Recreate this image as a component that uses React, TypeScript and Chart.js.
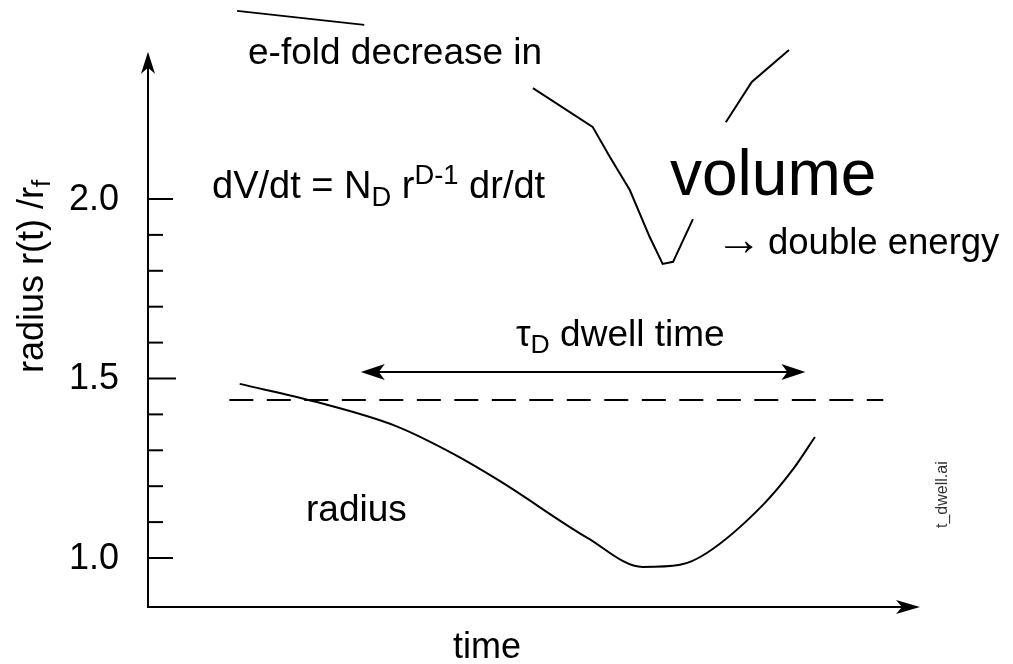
import React, { useEffect, useRef } from "react";
import { Chart, registerables } from "chart.js";

Chart.register(...registerables);

// ---- data (time in arbitrary units, radius/volume normalised by r_f) ----
const TIME_RADIUS = [10.6, 19.4, 28.6, 35.3, 40.7, 50.8, 57.2, 61.5, 64.6, 71.1, 74.6, 77.1];
const RADIUS = [1.485, 1.435, 1.368, 1.29, 1.214, 1.056, 0.975, 0.981, 1.014, 1.148, 1.248, 1.337];

const TIME_VOLUME = [10.3, 25.0, 35.0, 44.5, 51.4, 53.4, 55.7, 58.0, 59.5, 60.7, 63.0, 65.0, 66.8, 69.8, 74.1];
const VOLUME = [2.524, 2.485, null, 2.309, 2.201, 2.117, 2.025, 1.894, 1.819, 1.825, 1.944, null, 2.214, 2.326, 2.415];

const THRESHOLD_TIME = [9.4, 85.0];
const THRESHOLD_LEVEL = [1.44, 1.44];

const DWELL_TIME = [24.6, 76.0];
const DWELL_LEVEL = 1.518;

const Y_TICKS = [1.0, 1.1, 1.2, 1.3, 1.4, 1.5, 1.6, 1.7, 1.8, 1.9, 2.0];
const Y_TICK_LABELS = ["1.0", "", "", "", "", "1.5", "", "", "", "", "2.0"];

const X_RANGE = [0, 100];
const Y_RANGE = [0.8635, 2.5543];
const X_AXIS_END = 89.25;
const Y_AXIS_END = 2.41;

const FONT = "'Liberation Sans', Arial, Helvetica, sans-serif";
const INK = "#000";

type Seg = { t: string; sub?: boolean; sup?: boolean; font?: string; scale?: number };

function drawRich(ctx: CanvasRenderingContext2D, x: number, y: number, segs: Seg[], size: number) {
  let cx = x;
  for (const s of segs) {
    const sz = (s.sub || s.sup ? size * 0.72 : size) * (s.scale || 1);
    ctx.font = `${sz}px ${s.font || FONT}`;
    const dy = s.sub ? size * 0.2 : s.sup ? -size * 0.36 : 0;
    ctx.fillText(s.t, cx, y + dy);
    cx += ctx.measureText(s.t).width;
  }
}

function arrowHead(ctx: CanvasRenderingContext2D, tx: number, ty: number, dx: number, dy: number, len = 22, half = 7, notch = 6) {
  const px = -dy, py = dx;
  ctx.beginPath();
  ctx.moveTo(tx, ty);
  ctx.lineTo(tx - dx * len + px * half, ty - dy * len + py * half);
  ctx.lineTo(tx - dx * (len - notch), ty - dy * (len - notch));
  ctx.lineTo(tx - dx * len - px * half, ty - dy * len - py * half);
  ctx.closePath();
  ctx.fill();
}

const decorPlugin = {
  id: "decor",
  afterDatasetsDraw(chart: any) {
    const ctx: CanvasRenderingContext2D = chart.ctx;
    const xs = chart.scales.x;
    const ys = chart.scales.y;
    const x0 = xs.getPixelForValue(X_RANGE[0]);
    const y0 = ys.getPixelForValue(Y_RANGE[0]);
    ctx.save();
    ctx.strokeStyle = INK;
    ctx.fillStyle = INK;
    ctx.lineWidth = 2;
    ctx.lineCap = "butt";

    // axes
    const xTip = xs.getPixelForValue(X_AXIS_END);
    const yTip = ys.getPixelForValue(Y_AXIS_END);
    ctx.beginPath();
    ctx.moveTo(x0, y0);
    ctx.lineTo(xTip - 10, y0);
    ctx.moveTo(x0, y0 + 1);
    ctx.lineTo(x0, yTip + 10);
    ctx.stroke();
    arrowHead(ctx, xTip, y0, 1, 0, 24, 7, 6);
    arrowHead(ctx, x0, yTip, 0, -1, 22, 7, 6);

    // y ticks
    Y_TICKS.forEach((v, i) => {
      const py = ys.getPixelForValue(v);
      const lab = Y_TICK_LABELS[i];
      const len = lab ? (lab === "1.5" ? 28 : 25) : 15;
      ctx.beginPath();
      ctx.moveTo(x0, py);
      ctx.lineTo(x0 + len, py);
      ctx.stroke();
      if (lab) {
        ctx.font = `36px ${FONT}`;
        ctx.textAlign = "right";
        ctx.textBaseline = "middle";
        ctx.fillText(lab, x0 - 29, py + 1);
      }
    });

    // dwell-time double arrow
    const dl = xs.getPixelForValue(DWELL_TIME[0]);
    const dr = xs.getPixelForValue(DWELL_TIME[1]);
    const dy = ys.getPixelForValue(DWELL_LEVEL);
    ctx.beginPath();
    ctx.moveTo(dl + 10, dy);
    ctx.lineTo(dr - 10, dy);
    ctx.stroke();
    arrowHead(ctx, dl, dy, -1, 0, 24, 8, 6);
    arrowHead(ctx, dr, dy, 1, 0, 24, 8, 6);

    // texts
    ctx.textAlign = "left";
    ctx.textBaseline = "alphabetic";
    ctx.fillStyle = INK;
    drawRich(ctx, 248, 64, [{ t: "e-fold decrease in" }], 37);
    drawRich(ctx, 212, 198, [
      { t: "dV/dt = N" }, { t: "D", sub: true }, { t: " r" }, { t: "D-1", sup: true }, { t: " dr/dt" },
    ], 38);
    drawRich(ctx, 670, 195, [{ t: "volume" }], 64);
    drawRich(ctx, 716, 255, [{ t: "\u2192" }], 46);
    drawRich(ctx, 768, 254, [{ t: "double energy" }], 36.5);
    drawRich(ctx, 516, 346, [{ t: "\u03c4" }, { t: "D", sub: true }, { t: " dwell time" }], 37);
    drawRich(ctx, 306, 521, [{ t: "radius" }], 37);
    ctx.font = `36px ${FONT}`;
    ctx.textAlign = "center";
    ctx.fillText("time", 487, 658);

    // rotated y label
    ctx.save();
    ctx.translate(43, 373);
    ctx.rotate(-Math.PI / 2);
    ctx.textAlign = "left";
    drawRich(ctx, 0, 0, [{ t: "radius r(t) /r" }, { t: "f", sub: true }], 36);
    ctx.restore();

    // file tag
    ctx.save();
    ctx.translate(947, 528);
    ctx.rotate(-Math.PI / 2);
    ctx.textAlign = "left";
    ctx.fillStyle = "#333";
    ctx.font = `16px ${FONT}`;
    ctx.fillText("t_dwell.ai", 0, 0);
    ctx.restore();

    ctx.restore();
  },
};

export default function App() {
  const ref = useRef<HTMLCanvasElement | null>(null);
  useEffect(() => {
    if (!ref.current) return;
    const toXY = (xsArr: number[], ysArr: (number | null)[]) => xsArr.map((x, i) => ({ x, y: ysArr[i] }));
    const chart = new Chart(ref.current, {
      type: "line",
      data: {
        datasets: [
          {
            label: "radius",
            data: toXY(TIME_RADIUS, RADIUS) as any,
            borderColor: INK,
            borderWidth: 2,
            pointRadius: 0,
            cubicInterpolationMode: "monotone",
            fill: false,
          },
          {
            label: "volume",
            data: toXY(TIME_VOLUME, VOLUME) as any,
            borderColor: INK,
            borderWidth: 2,
            pointRadius: 0,
            tension: 0,
            spanGaps: false,
            fill: false,
          },
          {
            label: "threshold",
            data: toXY(THRESHOLD_TIME, THRESHOLD_LEVEL) as any,
            borderColor: INK,
            borderWidth: 2,
            borderDash: [24, 13.5],
            pointRadius: 0,
            fill: false,
          },
        ],
      },
      options: {
        animation: false,
        responsive: false,
        devicePixelRatio: 1,
        layout: { padding: { left: 148, right: 0, top: 0, bottom: 57 } },
        plugins: { legend: { display: false }, tooltip: { enabled: false }, title: { display: false } },
        events: [],
        scales: {
          x: { type: "linear", min: X_RANGE[0], max: X_RANGE[1], display: false },
          y: { type: "linear", min: Y_RANGE[0], max: Y_RANGE[1], display: false },
        },
      },
      plugins: [decorPlugin],
    });
    return () => chart.destroy();
  }, []);
  return (
    <div style={{ position: "fixed", left: 0, top: 0, width: 1013, height: 664, background: "#fff" }}>
      <canvas ref={ref} width={1013} height={664} style={{ display: "block", width: 1013, height: 664 }} />
    </div>
  );
}
